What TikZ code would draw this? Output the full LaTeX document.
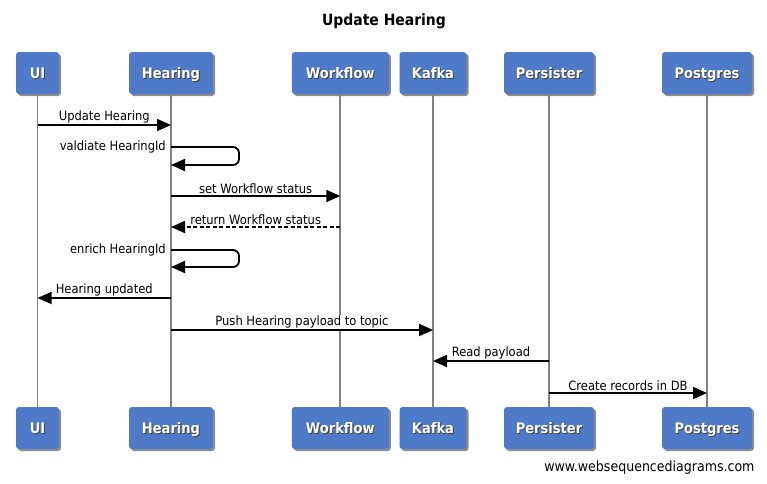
\documentclass[tikz,border=0pt]{standalone}
\usepackage{fontspec}
\setmainfont{DejaVu Sans Condensed}
\usetikzlibrary{arrows.meta,shadows}
\definecolor{boxblue}{RGB}{79,122,199}
\definecolor{lifegray}{RGB}{130,130,130}
\newcommand\shtext[1]{\rlap{\kern0.9pt\raisebox{-0.9pt}{\color{black!75}#1}}{\color{white}#1}}
\begin{document}
\begin{tikzpicture}[x=1pt,y=-1pt,
 actor/.style={fill=boxblue, rounded corners=3pt, minimum height=42pt, inner sep=0pt,
   text height=10.6pt, text depth=0pt,
   font=\bfseries\fontsize{14.5}{17}\selectfont,
   drop shadow={shadow xshift=2pt,shadow yshift=-2pt,opacity=0.45,fill=black}},
 lifeline/.style={draw=lifegray, line width=1.8pt},
 msg/.style={draw=black, line width=1.8pt, -{Triangle[length=14pt,width=12pt]}},
 ret/.style={msg, dash pattern=on 4pt off 2.5pt},
 lbl/.style={font=\fontsize{12.8}{14}\selectfont, fill=white, inner sep=1pt, anchor=south, behind path},
 selflbl/.style={font=\fontsize{12.8}{14}\selectfont, inner sep=1pt, anchor=east},
]
\useasboundingbox (0,0) rectangle (767,483);
\fill[white] (0,0) rectangle (767,483);
\node[font=\bfseries\fontsize{15.5}{17}\selectfont] (title) at (384,21) {Update Hearing};
% actors top
\node[actor, minimum width=43pt] (ui) at (37.5,73) {\shtext{UI}};
\node[actor, minimum width=84pt] (hear) at (171,73) {\shtext{Hearing}};
\node[actor, minimum width=97pt] (wf) at (340.3,73) {\shtext{Workflow}};
\node[actor, minimum width=67pt] (kaf) at (433,73) {\shtext{Kafka}};
\node[actor, minimum width=90pt] (pers) at (549,73) {\shtext{Persister}};
\node[actor, minimum width=90pt] (pg) at (707,73) {\shtext{Postgres}};
% actors bottom
\node[actor, minimum width=43pt] (uib) at (37.5,428) {\shtext{UI}};
\node[actor, minimum width=84pt] (hearb) at (171,428) {\shtext{Hearing}};
\node[actor, minimum width=97pt] (wfb) at (340.3,428) {\shtext{Workflow}};
\node[actor, minimum width=67pt] (kafb) at (433,428) {\shtext{Kafka}};
\node[actor, minimum width=90pt] (persb) at (549,428) {\shtext{Persister}};
\node[actor, minimum width=90pt] (pgb) at (707,428) {\shtext{Postgres}};
% lifelines
\draw[lifeline] (ui) -- (uib);
\draw[lifeline] (hear) -- (hearb);
\draw[lifeline] (wf) -- (wfb);
\draw[lifeline] (kaf) -- (kafb);
\draw[lifeline] (pers) -- (persb);
\draw[lifeline] (pg) -- (pgb);
% rows
\coordinate (r1) at (0,125);
\coordinate (r2) at (0,147);
\coordinate (r2b) at (0,165);
\coordinate (r3) at (0,196);
\coordinate (r4) at (0,227);
\coordinate (r5) at (0,250);
\coordinate (r5b) at (0,267);
\coordinate (r6) at (0,298);
\coordinate (r7) at (0,330);
\coordinate (r8) at (0,361);
\coordinate (r9) at (0,393);
% messages
\draw[msg] (ui |- r1) -- (hear |- r1) node[lbl, midway] {Update Hearing};
\draw[msg, rounded corners=6pt] (hear |- r2) -- ++(68,0) -- ++(0,18) -- (hear |- r2b);
\node[selflbl] (l2) at ([xshift=-4pt]hear |- r2) {valdiate HearingId};
\draw[msg] (hear |- r3) -- (wf |- r3) node[lbl, midway] {set Workflow status};
\draw[ret] (wf |- r4) -- (hear |- r4) node[lbl, midway] {return Workflow status};
\draw[msg, rounded corners=6pt] (hear |- r5) -- ++(68,0) -- ++(0,17) -- (hear |- r5b);
\node[selflbl] (l5) at ([xshift=-4pt]hear |- r5) {enrich HearingId};
\draw[msg] (hear |- r6) -- (ui |- r6) node[lbl, midway] {Hearing updated};
\draw[msg] (hear |- r7) -- (kaf |- r7) node[lbl, midway] {Push Hearing payload to topic};
\draw[msg] (pers |- r8) -- (kaf |- r8) node[lbl, midway] {Read payload};
\draw[msg] (pers |- r9) -- (pg |- r9) node[lbl, midway] {Create records in DB};
\node[anchor=east, font=\fontsize{14}{16}\selectfont] (wm) at (758,468) {www.websequencediagrams.com};
\end{tikzpicture}
\end{document}
